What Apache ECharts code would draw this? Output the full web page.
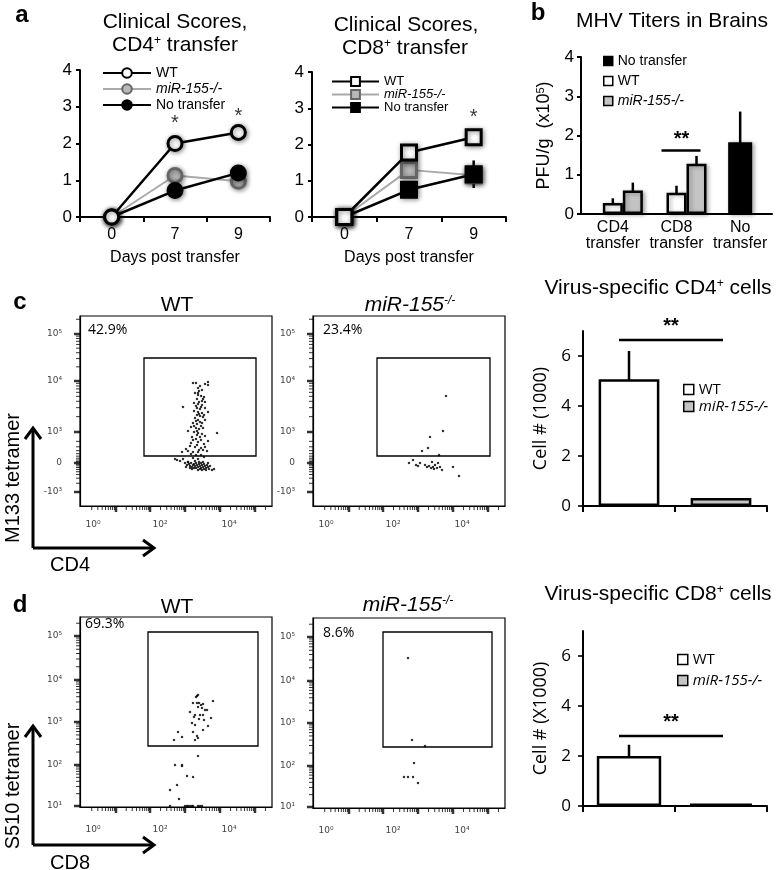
<!DOCTYPE html>
<html><head><meta charset="utf-8">
<script src="https://cdn.jsdelivr.net/npm/echarts@6/dist/echarts.min.js"></script>
<style>html,body{margin:0;padding:0;background:#fff}#c{width:778px;height:870px}</style>
</head><body><div id="c"></div>
<script>
// ================= DATA =================
const days = ['0', '7', '9'];
const cd4WT = [0, 2.0, 2.3];
const cd4KO = [0, 1.13, 0.97];
const cd4NT = [0, 0.72, 1.2];
const cd4WTerr = [0, 0.15, 0.1];
const cd4KOerr = [0, 0.1, 0.1];
const cd4NTerr = [0, 0.1, 0.12];
const cd4Stars = [[1, 2.55], [2, 2.74]];
const cd8WT = [0, 1.78, 2.2];
const cd8KO = [0, 1.3, 1.15];
const cd8NT = [0, 0.75, 1.18];
const cd8WTerr = [0, 0.12, 0.1];
const cd8KOerr = [0, 0.15, 0.1];
const cd8NTerr = [0, 0.1, 0.38];
const cd8Stars = [[2, 2.75]];
const scoreTicks = 1;

const titerCats = ['CD4\ntransfer', 'CD8\ntransfer', 'No\ntransfer'];
const titerWT = [0.28, 0.54, null];
const titerKO = [0.6, 1.28, null];
const titerNT = [null, null, 1.83];
const titerWTerr = [0.12, 0.18, null];
const titerKOerr = [0.2, 0.2, null];
const titerNTerr = [null, null, 0.78];
const titerSig = [[1, 1.62]];

const groups = ['WT', 'miR-155-/-'];
const cd4Cells = [5.07, 0.32];
const cd4CellsErr = [1.13, 0];
const cd4Sig = [[0, 6.64]];
const cd8Cells = [2.0, 0.1];
const cd8CellsErr = [0.45, 0];
const cd8Sig = [[0, 2.8]];
const cellTicks = [0, 2, 4, 6];

const flowXMajor = [36, 70, 105, 140, 175];
const flowXLabPos = [13, 80, 149];
const flowXLab = ['10⁰', '10²', '10⁴'];
const cYMajor = [14, 43, 74, 125, 172];
const cYLab = ['-10³', '0', '10³', '10⁴', '10⁵'];
const dYMajor = [1, 42, 85, 127, 171];
const dYLab = ['10¹', '10²', '10³', '10⁴', '10⁵'];
const flowPct = ['42.9%', '23.4%', '69.3%', '8.6%'];
const cWTgate = [64, 50, 176, 148];
const cKOgate = [64, 50, 177, 148];
const dWTgate = [68, 61, 178, 175];
const dKOgate = [70, 61, 179, 176];

const cWTdots = [[113,123],[116,123],[125,122],[128,121],[128,124],[118,118],[119,115],[122,116],[118,113],[118,111],[121,110],[124,109],[117,107],[122,105],[125,104],[114,103],[118,102],[122,101],[103,99],[117,98],[120,97],[125,98],[114,95],[118,94],[122,93],[128,94],[117,91],[120,90],[123,89],[115,88],[118,86],[125,86],[113,83],[117,82],[122,83],[111,79],[116,78],[119,77],[123,78],[108,75],[114,74],[118,73],[137,73],[117,71],[120,69],[125,70],[113,66],[118,64],[128,65],[110,60],[115,59],[121,58],[125,59],[102,54],[108,55],[113,54],[118,54],[123,56],
[120,120],[115,113],[123,107],[119,104],[116,100],[121,99],[119,92],[124,91],[116,85],[120,84],[114,80],[121,80],[117,75],[122,72],[112,69],[116,67],[121,66],[111,63],[117,61],[124,62],[106,57],[119,56],[127,55],[111,52],[116,51],[121,51],
[97,46],[100,45],[103,47],[108,44],[113,48],[118,47],[124,49],[95,47],[132,36],[134,37],
[105,43],[107,41],[109,42],[110,40],[111,43],[112,39],[113,41],[114,42],[115,40],[116,38],[116,43],[117,41],[118,39],[119,42],[120,40],[121,38],[121,43],[122,41],[123,39],[124,42],[124,37],[125,40],[126,38],[127,41],[128,39],[129,37],[130,40],[112,37],[118,36],[120,37],[122,36],[126,36],[110,38],[114,38],[119,44],[123,44],[128,43],[115,45],[106,39],[108,44]];
const cKOdots = [[133,110],[130,75],[117,69],[115,58],[109,55],[126,51],[96,43],[100,46],[103,41],[107,43],[112,41],[116,40],[119,44],[120,39],[122,41],[124,38],[125,43],[127,39],[129,36],[121,37],[140,39],[146,30],[105,40],[114,39],[118,38]];
const dWTdots = [[117,111],[118,112],[116,110],[113,104],[117,104],[119,104],[121,102],[123,103],[118,100],[122,99],[125,97],[127,97],[133,106],[110,95],[115,92],[120,92],[123,92],[114,90],[119,88],[124,87],[131,89],[112,84],[115,82],[128,81],[123,77],[113,75],[98,75],[102,70],[117,71],[118,69],[94,67],[115,67],
[118,51],[95,42],[102,42],[102,41],[107,31],[113,30],[97,22],[90,17],[99,8],
[90,1],[105,1],[107,1],[108,1],[110,1],[112,1],[113,1],[118,1],[120,1],[122,1]];
const dKOdots = [[95,150],[99,68],[112,62],[101,45],[91,31],[95,31],[100,31],[105,25]];

// ================= HELPERS =================
const ZW = '\u200b';
const AR = '"Liberation Sans", Arial, sans-serif';
const OS = '"Open Sans", sans-serif';
const DV = '"DejaVu Sans", sans-serif';
const strip = n => n.replace(/\u200b/g, '');

const option = { animation: false, backgroundColor: '#fff', grid: [], xAxis: [], yAxis: [], series: [], legend: [], graphic: [] };
function addGrid(l, t, w, h, extra) { option.grid.push(Object.assign({ left: l, top: t, width: w, height: h }, extra || {})); return option.grid.length - 1; }
function addX(o) { option.xAxis.push(o); return option.xAxis.length - 1; }
function addY(o) { option.yAxis.push(o); return option.yAxis.length - 1; }
function errData(vals, errs) { const out = []; vals.forEach((v, i) => { if (v != null && errs[i]) out.push([i, v - errs[i], v + errs[i]]); }); return out; }
function errSeries(xi, yi, data, off, w) {
  return { type: 'custom', xAxisIndex: xi, yAxisIndex: yi, data: data, silent: true, z: 1,
    encode: { x: 0, y: [1, 2] },
    renderItem: function (p, api) {
      const a = api.coord([api.value(0), api.value(1)]), b = api.coord([api.value(0), api.value(2)]);
      return { type: 'line', shape: { x1: a[0] + off, y1: a[1], x2: b[0] + off, y2: b[1] }, style: { stroke: '#000', lineWidth: w } };
    } };
}
function sigSeries(xi, yi, data, x1, x2, tx, ty) {
  return { type: 'custom', xAxisIndex: xi, yAxisIndex: yi, data: data, silent: true, z: 5, clip: false,
    renderItem: function (p, api) {
      const c = api.coord([api.value(0), api.value(1)]);
      return { type: 'group', children: [
        { type: 'line', shape: { x1: c[0] + x1, y1: c[1], x2: c[0] + x2, y2: c[1] }, style: { stroke: '#000', lineWidth: 2.5 } },
        { type: 'text', x: c[0] + tx, y: c[1] + ty, style: { text: '**', fill: '#000', font: 'bold 20px ' + AR, align: 'center', verticalAlign: 'middle' } }
      ] };
    } };
}
// tick marks as small rect symbols placed on the axes through the scales
function tickScatter(xi, yi, pts, kind, len, w, extraOff) {
  const eo = extraOff || 0;
  return { type: 'scatter', xAxisIndex: xi, yAxisIndex: yi, data: pts, silent: true, clip: false, z: 8,
    symbol: 'rect', symbolSize: kind === 0 ? [w, len] : [len, w],
    symbolOffset: kind === 0 ? [0, len / 2] : [-len / 2 - eo, 0],
    itemStyle: { color: '#000' } };
}
function text(x, y, t, font, extra) { option.graphic.push(Object.assign({ type: 'text', x: x, y: y, silent: true, style: Object.assign({ text: t, fill: '#000', font: font, align: 'center', verticalAlign: 'middle' }, (extra && extra.style) || {}) }, extra && extra.rotation ? { rotation: extra.rotation } : {})); }
function decadeTicks(majors, before, lo, hi) {
  const n = majors.length, span = (majors[n - 1] - majors[0]) / (n - 1);
  let ext = majors.slice(); ext.push(majors[n - 1] + span); if (before) ext.unshift(majors[0] - span);
  const out = [];
  for (let i = 0; i < ext.length - 1; i++) for (let k = 2; k <= 9; k++) { const p = ext[i] + (ext[i + 1] - ext[i]) * Math.log10(k); if (p > lo + 0.5 && p < hi - 0.5) out.push(p); }
  return out;
}

// ================= PANEL a =================
function linePanel(l, t, w, h, sfx, sym, sz, wt, ko, nt, wtE, koE, ntE, stars, lg) {
  const g = addGrid(l, t, w, h);
  const xi = addX({ gridIndex: g, type: 'category', data: days, boundaryGap: true,
    axisLine: { lineStyle: { color: '#000', width: 2 } }, axisTick: { show: true, length: 5, lineStyle: { color: '#000', width: 2 } },
    axisLabel: { color: '#000', fontSize: 16, fontFamily: AR, margin: 10 },
    name: 'Days post transfer', nameLocation: 'middle', nameGap: 33, nameTextStyle: { color: '#000', fontSize: 16, fontFamily: AR } });
  const yi = addY({ gridIndex: g, type: 'value', min: 0, max: 4, interval: scoreTicks,
    axisLine: { show: true, lineStyle: { color: '#000', width: 2 } }, axisTick: { show: true, length: 4, lineStyle: { color: '#000', width: 2 } },
    splitLine: { show: false }, axisLabel: { color: '#000', fontSize: 17, fontFamily: AR, margin: 8 } });
  option.series.push(errSeries(xi, yi, errData(wt, wtE).concat(errData(ko, koE), errData(nt, ntE)), 0, 2.5));
  const shadow = { shadowBlur: 5, shadowColor: 'rgba(0,0,0,0.45)', shadowOffsetX: 1, shadowOffsetY: 1 };
  const mk = (name, data, fill, border, lc, lw, z) => ({ type: 'line', name: name + sfx, xAxisIndex: xi, yAxisIndex: yi, data: data,
    symbol: sym, symbolSize: sz, z: z, itemStyle: Object.assign({ color: fill, borderColor: border, borderWidth: 3 }, shadow),
    lineStyle: { color: lc, width: lw } });
  option.series.push(mk('miR-155-/-', ko, '#b8b8b8', '#666', '#aaa', 2, 3));
  option.series.push(mk('No transfer', nt, '#000', '#000', '#000', 2.5, 4));
  option.series.push(mk('WT', wt, '#fff', '#000', '#000', 2.5, 5));
  option.series.push({ type: 'scatter', xAxisIndex: xi, yAxisIndex: yi, data: stars, symbolSize: 0, silent: true,
    label: { show: true, formatter: '*', position: 'inside', fontSize: 20, color: '#000', fontFamily: AR } });
  option.legend.push({ left: lg[0], top: lg[1], orient: 'vertical', itemWidth: lg[2], itemHeight: lg[3], itemGap: lg[4], selectedMode: false,
    formatter: strip, textStyle: { fontSize: lg[5], lineHeight: lg[6], color: '#000', fontFamily: AR },
    data: [{ name: 'WT' + sfx }, { name: 'miR-155-/-' + sfx, textStyle: { fontStyle: 'italic' } }, { name: 'No transfer' + sfx }] });
}
linePanel(80, 70, 190, 147, '', 'circle', 14, cd4WT, cd4KO, cd4NT, cd4WTerr, cd4KOerr, cd4NTerr, cd4Stars, [97, 61, 48, 12, 2, 14, 14]);
linePanel(312, 72, 194, 145, ZW, 'rect', 15, cd8WT, cd8KO, cd8NT, cd8WTerr, cd8KOerr, cd8NTerr, cd8Stars, [326, 70, 47, 11, 0, 13, 12]);

// ================= PANEL b =================
(function () {
  const g = addGrid(581, 57, 191, 157);
  const xi = addX({ gridIndex: g, type: 'category', data: titerCats, axisLine: { lineStyle: { color: '#000', width: 2 } }, axisTick: { show: false },
    axisLabel: { color: '#000', fontSize: 16, fontFamily: AR, lineHeight: 16, margin: 6, interval: 0 } });
  const xi2 = addX({ gridIndex: g, type: 'category', data: titerCats, show: false });
  const yi = addY({ gridIndex: g, type: 'value', min: 0, max: 4, interval: 1,
    axisLine: { show: true, lineStyle: { color: '#000', width: 2 } }, axisTick: { show: true, length: 4, lineStyle: { color: '#000', width: 2 } },
    splitLine: { show: false }, axisLabel: { color: '#000', fontSize: 17, fontFamily: AR, margin: 7 },
    name: 'PFU/g  (x10{s|5})', nameLocation: 'middle', nameRotate: 90, nameGap: 28,
    nameTextStyle: { color: '#000', fontSize: 18, fontFamily: AR, rich: { s: { fontSize: 11, fontFamily: AR, color: '#000', verticalAlign: 'top' } } } });
  const s = ZW + ZW;
  const bs = { borderColor: '#000', borderWidth: 2.5, shadowBlur: 4, shadowColor: 'rgba(0,0,0,0.3)', shadowOffsetX: 2, shadowOffsetY: 1 };
  option.series.push({ type: 'bar', name: '_gap', xAxisIndex: xi, yAxisIndex: yi, data: [null, null, null], barWidth: 20, barGap: '0%', silent: true });
  option.series.push({ type: 'bar', name: 'WT' + s, xAxisIndex: xi, yAxisIndex: yi, data: titerWT, barWidth: 20, barGap: '0%', itemStyle: Object.assign({ color: '#fff' }, bs) });
  option.series.push({ type: 'bar', name: 'miR-155-/-' + s, xAxisIndex: xi, yAxisIndex: yi, data: titerKO, barWidth: 20, barGap: '0%', itemStyle: Object.assign({ color: '#c4c4c4' }, bs) });
  option.series.push({ type: 'bar', name: 'No transfer' + s, xAxisIndex: xi2, yAxisIndex: yi, data: titerNT, barWidth: 24, itemStyle: Object.assign({ color: '#000' }, bs) });
  option.series.push(errSeries(xi, yi, errData(titerWT, titerWTerr), 0, 2.5));
  option.series.push(errSeries(xi, yi, errData(titerKO, titerKOerr), 20, 2.5));
  option.series.push(errSeries(xi2, yi, errData(titerNT, titerNTerr), 0, 2.5));
  option.series.push(sigSeries(xi, yi, titerSig, -15, 24, 5, -11));
  option.legend.push({ left: 598, top: 49, orient: 'vertical', icon: 'rect', itemWidth: 9, itemHeight: 9, itemGap: 6, selectedMode: false,
    formatter: strip, textStyle: { fontSize: 14, color: '#000', fontFamily: AR }, itemStyle: { borderWidth: 1.5, borderColor: '#000' },
    data: [{ name: 'No transfer' + s }, { name: 'WT' + s }, { name: 'miR-155-/-' + s, textStyle: { fontStyle: 'italic' } }] });
})();

// ================= FLOW PLOTS =================
function flowPanel(l, t, dots, gate, yMajor, yLab, yMinor, xMargin) {
  const g = addGrid(l, t, 192, 190, { show: true, borderColor: '#000', borderWidth: 1.2 });
  const xi = addX({ gridIndex: g, type: 'value', min: 0, max: 192, position: 'bottom',
    axisLine: { show: true, onZero: false, lineStyle: { color: '#000', width: 1.2 } }, splitLine: { show: false }, axisTick: { show: false },
    axisLabel: { show: true, customValues: flowXLabPos, margin: xMargin, formatter: v => flowXLab[flowXLabPos.indexOf(v)] || '', fontSize: 9, color: '#444', fontFamily: DV } });
  const yi = addY({ gridIndex: g, type: 'value', min: 0, max: 190, position: 'left',
    axisLine: { show: true, onZero: false, lineStyle: { color: '#000', width: 1.2 } }, splitLine: { show: false }, axisTick: { show: false },
    axisLabel: { show: true, customValues: yMajor, margin: 18, formatter: v => yLab[yMajor.indexOf(v)] || '', fontSize: 9, color: '#444', fontFamily: DV } });
  option.series.push(tickScatter(xi, yi, flowXMajor.map(v => [v, 0]), 0, 6, 2.5));
  option.series.push(tickScatter(xi, yi, decadeTicks(flowXMajor, true, 0, 192).map(v => [v, 0]), 0, 4, 1));
  option.series.push(tickScatter(xi, yi, yMajor.map(v => [0, v]), 1, 6, 2.5));
  option.series.push(tickScatter(xi, yi, yMinor.map(v => [0, v]), 1, 4, 1));
  option.series.push({ type: 'scatter', xAxisIndex: xi, yAxisIndex: yi, data: dots, symbol: 'rect', symbolSize: 2.2, silent: true,
    itemStyle: { color: '#000' },
    markArea: { silent: true, itemStyle: { color: 'rgba(0,0,0,0)', borderColor: '#000', borderWidth: 1.3 },
      data: [[{ coord: [gate[0], gate[1]] }, { coord: [gate[2], gate[3]] }]] } });
}
const cYMinor = decadeTicks(cYMajor.slice(2), false, 0, 190).concat(
  [2, 3, 4, 5, 6, 7, 8, 9].map(k => cYMajor[0] + (cYMajor[1] - cYMajor[0]) * Math.log10(k)),
  [2, 3, 4, 5, 6, 7, 8, 9].map(k => cYMajor[2] - (cYMajor[2] - cYMajor[1]) * Math.log10(k)));
const dYMinor = decadeTicks(dYMajor, false, 0, 190);
flowPanel(80, 316, cWTdots, cWTgate, cYMajor, cYLab, cYMinor, 14);
flowPanel(313, 316, cKOdots, cKOgate, cYMajor, cYLab, cYMinor, 14);
flowPanel(80, 617, dWTdots, dWTgate, dYMajor, dYLab, dYMinor, 18);
flowPanel(313, 618, dKOdots, dKOgate, dYMajor, dYLab, dYMinor, 18);

// ================= CELL # BARS =================
function cellPanel(t, vals, errs, sig, yname, sfx, lg, ww) {
  const g = addGrid(583, t, 184, 175);
  const xi = addX({ gridIndex: g, type: 'category', data: groups, axisLine: { lineStyle: { color: '#000', width: 2 } },
    axisTick: { show: true, length: 6, lineStyle: { color: '#000', width: 2 } }, axisLabel: { show: false } });
  const yi = addY({ gridIndex: g, type: 'value', min: 0, max: 7,
    axisLine: { show: true, lineStyle: { color: '#000', width: 2 } }, splitLine: { show: false }, axisTick: { show: false },
    axisLabel: { customValues: cellTicks, color: '#000', fontSize: 17, fontFamily: OS, margin: 12 },
    name: yname, nameLocation: 'middle', nameRotate: 90, nameGap: 33, nameTextStyle: { color: '#000', fontSize: 18, fontFamily: OS } });
  // ticks sit on the y axis: half a category band (46px) left of the first category centre
  option.series.push(tickScatter(xi, yi, cellTicks.map(v => [0, v]), 1, 5, 2, 46));
  const bs = { borderColor: '#000', borderWidth: 2.5 };
  option.series.push({ type: 'bar', name: 'WT' + sfx, xAxisIndex: xi, yAxisIndex: yi, data: [vals[0], null], barWidth: ww, barGap: '-100%', itemStyle: Object.assign({ color: '#fff' }, bs) });
  option.series.push({ type: 'bar', name: 'miR-155-/-' + sfx, xAxisIndex: xi, yAxisIndex: yi, data: [null, vals[1]], barWidth: ww, barGap: '-100%', itemStyle: Object.assign({ color: '#c4c4c4' }, bs) });
  option.series.push(errSeries(xi, yi, errData(vals, errs), 0, 2.5));
  option.series.push(sigSeries(xi, yi, sig, -10, 94, 42, -14));
  option.legend.push({ left: lg[0], top: lg[1], orient: 'vertical', icon: 'rect', itemWidth: 10, itemHeight: 10, itemGap: lg[2], selectedMode: false,
    formatter: strip, textStyle: { fontSize: 15, color: '#000', fontFamily: OS }, itemStyle: { borderWidth: 1.5, borderColor: '#000' },
    data: [{ name: 'WT' + sfx }, { name: 'miR-155-/-' + sfx, textStyle: { fontStyle: 'italic' } }] });
}
cellPanel(331, cd4Cells, cd4CellsErr, cd4Sig, 'Cell # (1000)', ZW + ZW + ZW, [678, 377, 2], '66%');
cellPanel(631, cd8Cells, cd8CellsErr, cd8Sig, 'Cell # (X1000)', ZW + ZW + ZW + ZW, [672, 647, 6], '70%');

// ================= TEXT / DECOR =================
const T21 = '21px ' + AR;
text(22, 15, 'a', 'bold 24px ' + AR);
text(538, 13, 'b', 'bold 24px ' + AR);
text(20, 302, 'c', 'bold 24px ' + AR);
text(20, 605, 'd', 'bold 24px ' + AR);
text(175, 22, 'Clinical Scores,', T21);
text(175, 45, '{n|CD4}{s|+}{n| transfer}', T21, { style: { rich: { n: { font: T21, fill: '#000' }, s: { font: '12px ' + AR, fill: '#000', verticalAlign: 'top' } } } });
text(406, 25, 'Clinical Scores,', T21);
text(405, 48, '{n|CD8}{s|+}{n| transfer}', T21, { style: { rich: { n: { font: T21, fill: '#000' }, s: { font: '12px ' + AR, fill: '#000', verticalAlign: 'top' } } } });
text(672, 21, 'MHV Titers in Brains', T21);
const koRich = { i: { font: 'italic ' + T21, fill: '#000' }, s: { font: 'italic 12px ' + AR, fill: '#000', verticalAlign: 'top' } };
text(177, 305, 'WT', T21);
text(410, 305, '{i|miR-155}{s|-/-}', T21, { style: { rich: koRich } });
text(658, 288, '{n|Virus-specific CD4}{s|+}{n| cells}', T21, { style: { rich: { n: { font: T21, fill: '#000' }, s: { font: '12px ' + AR, fill: '#000', verticalAlign: 'top' } } } });
text(177, 607, 'WT', T21);
text(408, 605, '{i|miR-155}{s|-/-}', T21, { style: { rich: koRich } });
text(658, 594, '{n|Virus-specific CD8}{s|+}{n| cells}', T21, { style: { rich: { n: { font: T21, fill: '#000' }, s: { font: '12px ' + AR, fill: '#000', verticalAlign: 'top' } } } });
const PF = '14px ' + OS;
text(88, 330, flowPct[0], PF, { style: { align: 'left' } });
text(323, 330, flowPct[1], PF, { style: { align: 'left' } });
text(85, 624, flowPct[2], PF, { style: { align: 'left' } });
text(323, 633, flowPct[3], PF, { style: { align: 'left' } });
text(13, 478, 'M133 tetramer', '20px ' + AR, { rotation: Math.PI / 2 });
text(70, 565, 'CD4', '20px ' + AR);
text(13, 786, 'S510 tetramer', '20px ' + AR, { rotation: Math.PI / 2 });
text(70, 863, 'CD8', '20px ' + AR);
function arrows(y0, yTop) {
  const st = { stroke: '#000', lineWidth: 3, fill: null };
  option.graphic.push({ type: 'polyline', silent: true, shape: { points: [[33, y0], [33, yTop + 2]] }, style: st });
  option.graphic.push({ type: 'polyline', silent: true, shape: { points: [[25, yTop + 11], [33, yTop], [41, yTop + 11]] }, style: st });
  option.graphic.push({ type: 'polyline', silent: true, shape: { points: [[33, y0], [152, y0]] }, style: st });
  option.graphic.push({ type: 'polyline', silent: true, shape: { points: [[143, y0 - 8], [154, y0], [143, y0 + 8]] }, style: st });
}
arrows(548, 428);
arrows(845, 726);

echarts.init(document.getElementById('c')).setOption(option);
</script></body></html>
